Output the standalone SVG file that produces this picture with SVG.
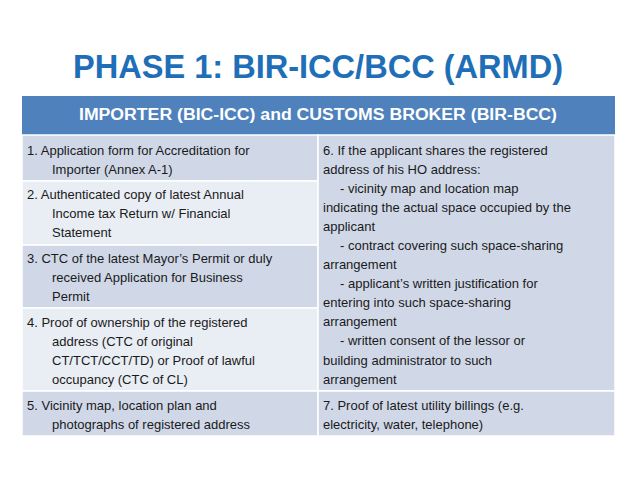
<svg xmlns="http://www.w3.org/2000/svg" width="638" height="479" viewBox="0 0 638 479">
<style>
.t{font-family:"Liberation Sans",Arial,sans-serif;font-size:13px;fill:#1a1a1a}
.d{fill:#D0D8E8}.l{fill:#E9EDF4}
</style>
<rect width="638" height="479" fill="#fff"/>
<text x="318" y="78" text-anchor="middle" font-family="Liberation Sans,Arial,sans-serif" font-weight="bold" font-size="33" fill="#1F6EB8" textLength="490" lengthAdjust="spacingAndGlyphs">PHASE 1: BIR-ICC/BCC (ARMD)</text>
<g id="header"><rect x="22" y="96" width="593" height="39" fill="#4F81BD"/>
<text x="318" y="120" text-anchor="middle" font-family="Liberation Sans,Arial,sans-serif" font-weight="bold" font-size="16" fill="#fff" textLength="478" lengthAdjust="spacingAndGlyphs">IMPORTER (BIC-ICC) and CUSTOMS BROKER (BIR-BCC)</text></g>
<g id="cells" stroke="#fff" stroke-width="1.5">
<rect class="d" x="22" y="135" width="296" height="46"/>
<rect class="l" x="22" y="181" width="296" height="64"/>
<rect class="d" x="22" y="245" width="296" height="63"/>
<rect class="l" x="22" y="308" width="296" height="83"/>
<rect class="d" x="22" y="391" width="296" height="45"/>
<rect class="d" x="318" y="135" width="297" height="256"/>
<rect class="d" x="318" y="391" width="297" height="45"/>
</g>
<g id="left" class="t">
<text class="t" x="27" y="155">1.  Application form for Accreditation for</text>
<text class="t" x="52" y="174">Importer (Annex A-1)</text>
<text class="t" x="27" y="199">2.  Authenticated copy of latest Annual</text>
<text class="t" x="52" y="218">Income tax Return w/ Financial</text>
<text class="t" x="52" y="237">Statement</text>
<text class="t" x="27" y="263">3.  CTC of the latest Mayor’s Permit or duly</text>
<text class="t" x="52" y="282">received Application for Business</text>
<text class="t" x="52" y="301">Permit</text>
<text class="t" x="27" y="327">4.  Proof of ownership of the registered</text>
<text class="t" x="52" y="346">address (CTC of original</text>
<text class="t" x="52" y="365">CT/TCT/CCT/TD) or Proof of lawful</text>
<text class="t" x="52" y="384">occupancy (CTC of CL)</text>
<text class="t" x="27" y="410">5.  Vicinity map, location plan and</text>
<text class="t" x="52" y="429">photographs of registered address</text>
</g>
<g id="right">
<text class="t" x="323" y="155">6.  If the applicant shares the registered</text>
<text class="t" x="323" y="174">address of his HO address:</text>
<text class="t" x="340" y="193">- vicinity map and location map</text>
<text class="t" x="323" y="212">indicating the actual space occupied by the</text>
<text class="t" x="323" y="231">applicant</text>
<text class="t" x="340" y="250">- contract covering such space-sharing</text>
<text class="t" x="323" y="269">arrangement</text>
<text class="t" x="340" y="288">- applicant’s written justification for</text>
<text class="t" x="323" y="307">entering into such space-sharing</text>
<text class="t" x="323" y="326">arrangement</text>
<text class="t" x="340" y="345">- written consent of the lessor or</text>
<text class="t" x="323" y="365">building administrator to such</text>
<text class="t" x="323" y="384">arrangement</text>
<text class="t" x="323" y="410">7.  Proof of latest utility billings (e.g.</text>
<text class="t" x="323" y="429">electricity, water, telephone)</text>
</g>
</svg>
